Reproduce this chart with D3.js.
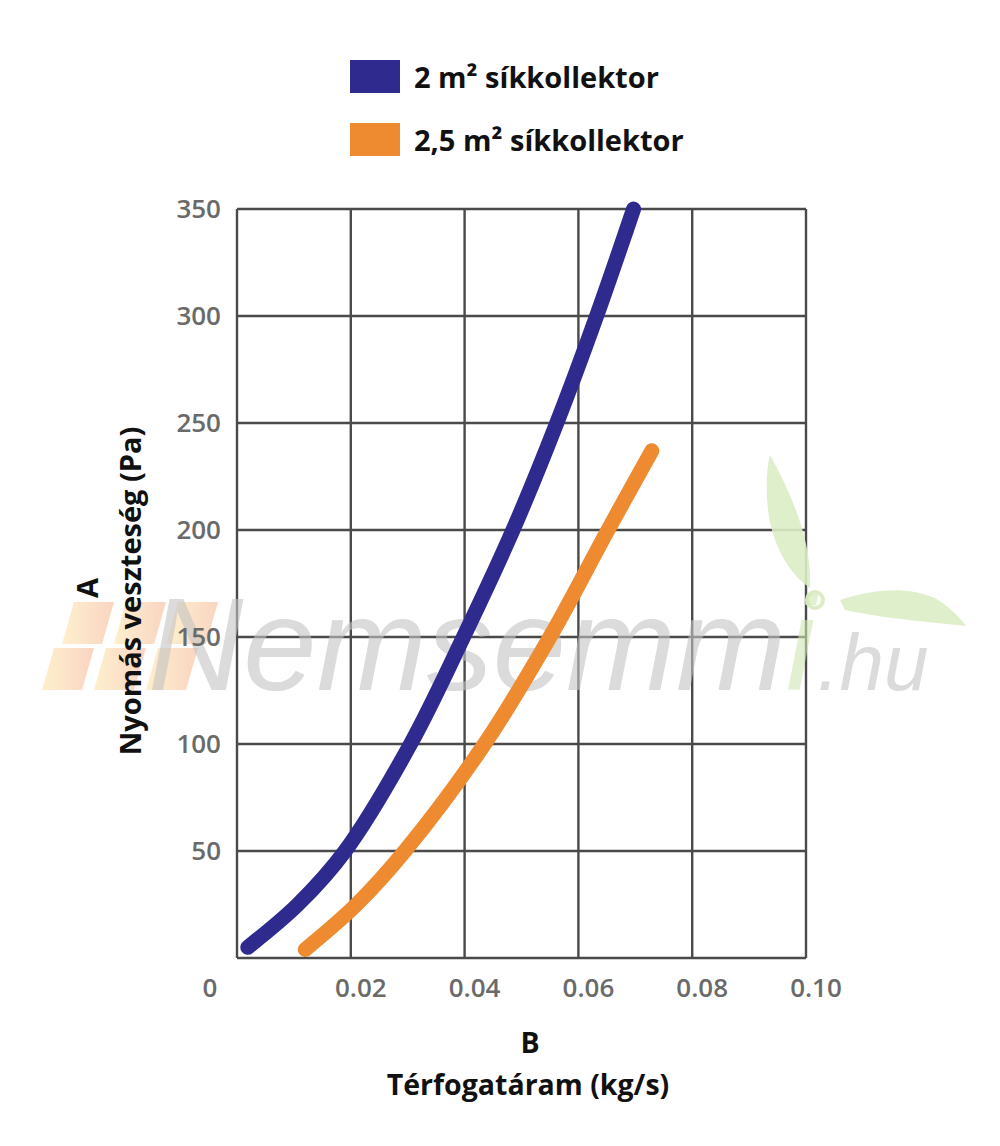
<!DOCTYPE html>
<html>
<head>
<meta charset="utf-8">
<script src="https://cdn.jsdelivr.net/npm/d3@7"></script>
<style>
  html, body { margin: 0; padding: 0; background: #fff; }
  svg { display: block; }
</style>
</head>
<body>
<svg id="chart" width="1000" height="1146"></svg>
<script>
// ---- data ----
const seriesNames = ["2 m² síkkollektor", "2,5 m² síkkollektor"];
const seriesColors = ["#2f2a8e", "#ee8a30"];
// flow (kg/s), pressure loss (Pa)
const flow2m = [0.0019, 0.0107, 0.019, 0.0305, 0.0398, 0.0485, 0.0562, 0.0632, 0.0697];
const loss2m = [5, 25, 50, 100, 150, 200, 250, 300, 350];
const flow25m = [0.012, 0.021, 0.0295, 0.0435, 0.0550, 0.0652, 0.0729];
const loss25m = [4, 25, 50, 100, 150, 200, 237];
const xTicks = [0, 0.02, 0.04, 0.06, 0.08, 0.10];
const xTickLabels = ["0", "0.02", "0.04", "0.06", "0.08", "0.10"];
const yTicks = [0, 50, 100, 150, 200, 250, 300, 350];
const yTickLabels = ["0", "50", "100", "150", "200", "250", "300", "350"];
const yTitleLetter = "A";
const yTitle = "Nyomás veszteség (Pa)";
const xTitleLetter = "B";
const xTitle = "Térfogatáram (kg/s)";

// ---- layout ----
const svg = d3.select("#chart");
const M = { left: 237, right: 806, top: 209, bottom: 958 };
const x = d3.scaleLinear().domain([0, 0.10]).range([M.left, M.right]);
const y = d3.scaleLinear().domain([0, 350]).range([M.bottom, M.top]);
const FONT = "'Open Sans', 'DejaVu Sans', sans-serif";

const defs = svg.append("defs");
const stripeGrad = defs.append("linearGradient")
  .attr("id", "stripe").attr("x1", "0").attr("x2", "1").attr("y1", "0").attr("y2", "0");
stripeGrad.append("stop").attr("offset", "0").attr("stop-color", "#fde9b8");
stripeGrad.append("stop").attr("offset", "1").attr("stop-color", "#f7c2a8");

// ---- grid ----
const grid = svg.append("g").attr("class", "grid");
grid.selectAll("line.h").data(yTicks).join("line")
  .attr("x1", M.left).attr("x2", M.right)
  .attr("y1", d => y(d)).attr("y2", d => y(d))
  .attr("stroke", "#4a4a4a").attr("stroke-width", 2.4);
grid.selectAll("line.v").data(xTicks).join("line")
  .attr("y1", M.top).attr("y2", M.bottom)
  .attr("x1", d => x(d)).attr("x2", d => x(d))
  .attr("stroke", "#4a4a4a").attr("stroke-width", 2.4);

// ---- watermark ----
const wm = svg.append("g").attr("class", "watermark");
[0, 1].forEach(r => {
  [0, 1, 2].forEach(c => {
    const x0 = 62 + c * 52 - r * 20, y0 = 602 + r * 46;
    wm.append("path")
      .attr("d", `M${x0 + 12},${y0} L${x0 + 52},${y0} L${x0 + 40},${y0 + 42} L${x0},${y0 + 42} Z`)
      .attr("fill", "url(#stripe)").attr("opacity", 0.7);
  });
});
wm.append("path")
  .attr("d", "M770,455 C795,500 812,545 810,588 C790,575 772,545 768,510 C766,490 766,470 770,455 Z")
  .attr("fill", "#dcedc6").attr("opacity", 0.9);
wm.append("path")
  .attr("d", "M840,600 C870,590 905,585 935,598 C948,606 958,615 966,626 C930,622 880,618 845,610 Z")
  .attr("fill", "#dcedc6").attr("opacity", 0.9);
wm.append("circle").attr("cx", 815).attr("cy", 600).attr("r", 8)
  .attr("fill", "none").attr("stroke", "#dcedc6").attr("stroke-width", 4);
const wmText = wm.append("text")
  .attr("x", 148).attr("y", 690)
  .attr("font-family", "'Liberation Sans', 'DejaVu Sans', sans-serif")
  .attr("font-style", "italic").attr("font-weight", 400)
  .attr("font-size", 132).attr("fill", "#c4c4c4").attr("opacity", 0.6);
wmText.append("tspan").text("Nemsemm");
wmText.append("tspan").attr("fill", "#cfe6b4").text("i");
wmText.append("tspan").attr("font-size", 80).attr("dx", 2).text(".hu");

// ---- curves ----
const line = d3.line().x(d => x(d[0])).y(d => y(d[1])).curve(d3.curveCatmullRom.alpha(0.5));
const series = [d3.zip(flow2m, loss2m), d3.zip(flow25m, loss25m)];
svg.append("g").selectAll("path").data(series).join("path")
  .attr("d", line)
  .attr("fill", "none")
  .attr("stroke", (d, i) => seriesColors[i])
  .attr("stroke-width", 15)
  .attr("stroke-linecap", "round")
  .attr("stroke-linejoin", "round");

// ---- tick labels ----
const tickStyle = s => s.attr("font-family", FONT).attr("font-weight", 600)
  .attr("font-size", 26).attr("fill", "#6a6a6a");
svg.append("g").selectAll("text").data(yTicks.slice(1)).join("text")
  .call(tickStyle)
  .attr("x", M.left - 16).attr("y", d => y(d)).attr("dy", "0.35em")
  .attr("text-anchor", "end")
  .text((d, i) => yTickLabels[i + 1]);
svg.append("g").selectAll("text").data(xTicks).join("text")
  .call(tickStyle)
  .attr("x", d => d === 0 ? x(d) - 27 : x(d) + 10)
  .attr("y", M.bottom + 39)
  .attr("text-anchor", "middle")
  .text((d, i) => xTickLabels[i]);

// ---- axis titles ----
const titleStyle = (s, size) => s.attr("font-family", FONT).attr("font-weight", 700)
  .attr("font-size", size).attr("fill", "#111");
svg.append("text").call(titleStyle, 29)
  .attr("transform", "translate(98,588) rotate(-90)")
  .attr("text-anchor", "middle").text(yTitleLetter);
svg.append("text").call(titleStyle, 29)
  .attr("transform", "translate(141,591) rotate(-90)")
  .attr("text-anchor", "middle").text(yTitle);
svg.append("text").call(titleStyle, 28.5)
  .attr("x", 530).attr("y", 1053).attr("text-anchor", "middle").text(xTitleLetter);
svg.append("text").call(titleStyle, 28.5)
  .attr("x", 528).attr("y", 1095).attr("text-anchor", "middle").text(xTitle);

// ---- legend ----
const legend = svg.append("g").selectAll("g").data(seriesNames).join("g")
  .attr("transform", (d, i) => `translate(350,${60 + i * 63})`);
legend.append("rect").attr("width", 50).attr("height", 33)
  .attr("fill", (d, i) => seriesColors[i]);
legend.append("text")
  .attr("font-family", FONT).attr("font-weight", 700).attr("font-size", 29)
  .attr("fill", "#111").attr("x", 64).attr("y", 28)
  .text(d => d);
</script>
</body>
</html>
